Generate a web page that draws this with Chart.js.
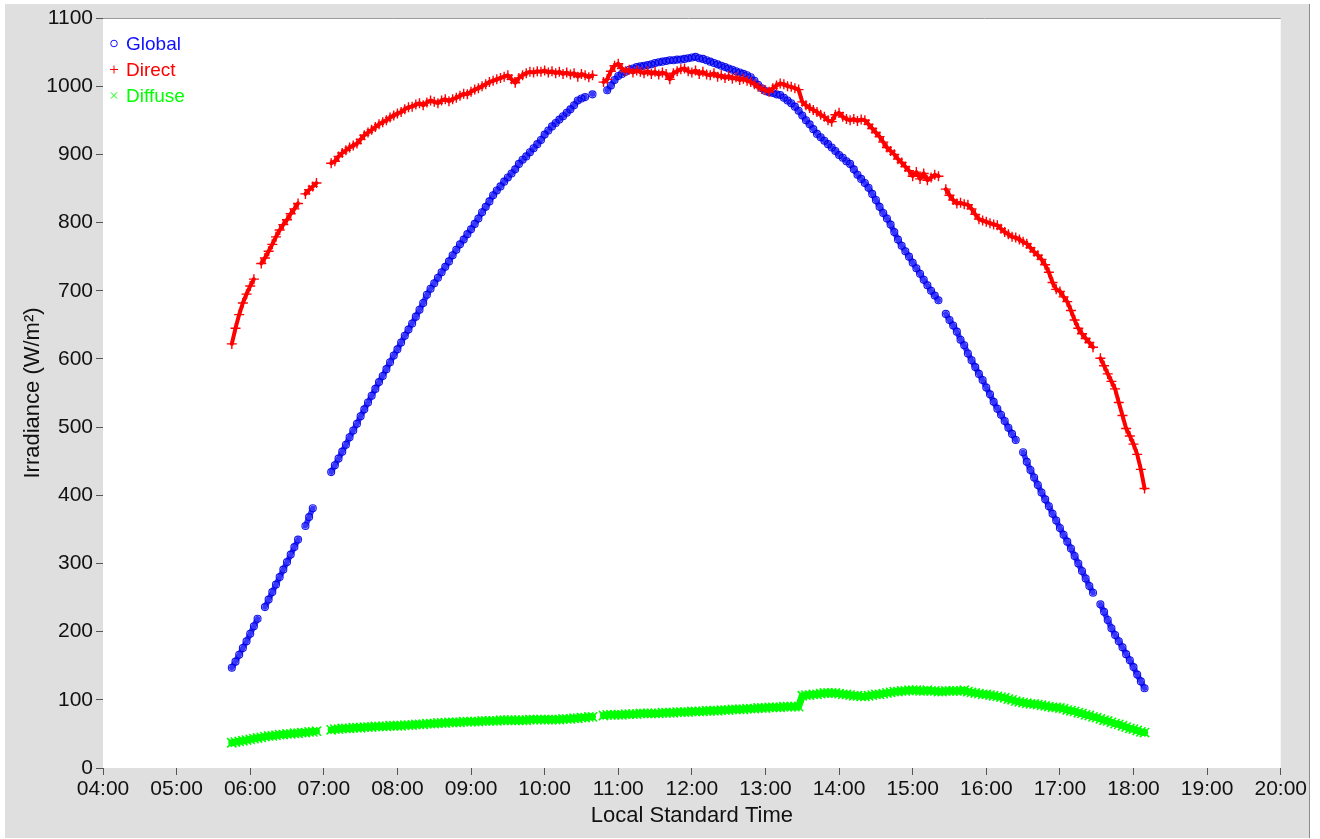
<!DOCTYPE html>
<html>
<head>
<meta charset="utf-8">
<title>Irradiance</title>
<script src="https://cdn.jsdelivr.net/npm/chart.js@4.4.0/dist/chart.umd.min.js"></script>
<style>
  body { margin: 0; background: #fff; }
  #wrap { position: absolute; left: 5px; top: 4px; width: 1304px; height: 834px; background: #dfdfdf; border-right: 1px solid #8c8c8c; }
</style>
</head>
<body>
<div id="wrap"><canvas id="irradianceChart" width="1304" height="834"></canvas></div>
<script>
// logger grid: one reading every 3 minutes, first one at 05:45 (minutes after midnight)
var firstSample = 345;
var sampleStep = 3;

var xTickLabels = ['04:00', '05:00', '06:00', '07:00', '08:00', '09:00', '10:00', '11:00', '12:00',
    '13:00', '14:00', '15:00', '16:00', '17:00', '18:00', '19:00', '20:00'];
var yTickLabels = ['0', '100', '200', '300', '400', '500', '600', '700', '800', '900', '1000', '1100'];

// W/m2, rows = one hour (first row 05:45-05:57, last row 18:00-18:09), null = no reading
var globalVals = [
    147, 156, 166, 176, 186,
    197, 208, 219, null, 236, 247, 258, 269, 280, 291, 302, 313, 324, 335, null, 355, 368, 381, null, null,
    null, null, 434, 444, 454, 464, 474, 485, 495, 505, 516, 526, 536, 546, 556, 566, 575, 585, 595, 605,
    614, 624, 634, 643, 652, 662, 672, 682, 694, 703, 711, 719, 727, 735, 743, 752, 760, 768, 775, 783,
    790, 798, 806, 815, 823, 831, 840, 847, 853, 860, 866, 872, 878, 886, 892, 897, 903, 909, 915, 921,
    929, 935, 941, 946, 951, 956, 961, 966, 972, 979, 982, 984, null, 988, null, null, null, 994, 1001, 1009,
    1015, 1018, 1021, 1024, 1026, 1028, 1029, 1030, 1031, 1032, 1034, 1035, 1036, 1037, 1038, 1038, 1039, 1039, 1040, 1041,
    1042, 1043, 1041, 1040, 1038, 1036, 1034, 1032, 1030, 1028, 1026, 1024, 1022, 1020, 1018, 1016, 1013, 1008, 1002, 997,
    993, 991, 990, 988, 987, 983, 979, 975, 970, 964, 957, 950, 944, 937, 930, 925, 920, 915, 910, 905,
    899, 895, 890, 886, 878, 870, 864, 858, 851, 842, 833, 823, 814, 806, 797, 786, 775, 766, 758, 750,
    741, 733, 725, 716, 708, 700, 693, 686, null, 666, 657, 649, 640, 628, 620, 608, 598, 588, 578, 569,
    558, 548, 537, 527, 518, 509, 499, 490, 481, null, 463, 449, 437, 426, 415, 404, 394, 384, 373, 363,
    352, 342, 332, 322, 311, 300, 289, 278, 267, 257, null, 240, 229, 217, 205, 195, 186, 177, 167, 158,
    148, 137, 127, 117
];

var directVals = [
    622, 645, 665, 682, 695,
    707, 717, null, 740, 748, 758, 768, 779, 789, 797, 804, 813, 820, 828, null, 842, 848, 853, 858, null,
    null, null, 887, 890, 897, 902, 906, 910, 913, 916, 922, 928, 932, 936, 940, 944, 947, 950, 954, 957,
    960, 962, 966, 969, 970, 973, 975, 972, 976, 979, 977, 975, 979, 981, 978, 981, 983, 986, 989, 988,
    992, 995, 997, 1000, 1003, 1006, 1008, 1010, 1012, 1014, 1016, 1010, 1005, 1012, 1016, 1019, 1021, 1020, 1022, 1021,
    1023, 1020, 1022, 1019, 1021, 1018, 1020, 1017, 1019, 1014, 1018, 1016, 1013, 1016, null, null, 1006, 1010, 1022, 1030,
    1033, 1026, 1022, 1024, 1020, 1023, 1021, 1019, 1022, 1018, 1021, 1017, 1020, 1018, 1010, 1019, 1022, 1025, 1026, 1022,
    1020, 1023, 1018, 1021, 1017, 1016, 1019, 1014, 1016, 1012, 1015, 1011, 1013, 1009, 1011, 1008, 1006, 1003, 999, 996,
    994, 992, 997, 1001, 1004, 1003, 1000, 999, 997, 995, 977, 972, 968, 965, 962, 958, 955, 950, 948, 958,
    961, 955, 952, 950, 952, 949, 951, 950, 944, 938, 932, 926, 918, 910, 905, 900, 893, 888, 882, 876,
    868, 874, 864, 872, 862, 866, 870, 868, null, 849, 840, 833, 828, 829, 827, 826, 820, 812, 805, 803,
    801, 799, 797, 796, 791, 786, 783, 779, 778, 775, 772, 769, 763, 757, 752, 746, 738, 727, 712, 702,
    699, 691, 684, 671, 657, 645, 637, 630, 624, 617, null, 601, 590, 578, 567, 556, 536, 517, 498, 487,
    475, 460, 438, 410
];

var diffuseVals = [
    37, 38, 39, 40, 41,
    42, 43, 44, 45, 46, 47, 47, 48, 49, 49, 50, 50, 51, 51, 52, 52, 53, 53, 54, null,
    null, null, 56, 57, 57, 58, 58, 58, 59, 59, 59, 60, 60, 60, 61, 61, 61, 61, 62, 62,
    62, 62, 63, 63, 63, 64, 64, 64, 65, 65, 65, 66, 66, 66, 67, 67, 67, 67, 68, 68,
    68, 68, 68, 69, 69, 69, 69, 69, 70, 70, 70, 70, 70, 70, 70, 70, 71, 71, 71, 71,
    71, 71, 71, 71, 71, 72, 72, 72, 73, 73, 74, 74, 75, 75, null, null, 77, 78, 78, 78,
    78, 78, 79, 79, 79, 79, 80, 80, 80, 80, 80, 80, 81, 81, 81, 81, 82, 82, 82, 82,
    83, 83, 83, 83, 84, 84, 84, 84, 85, 85, 85, 86, 86, 86, 86, 87, 87, 87, 88, 88,
    88, 89, 89, 89, 89, 90, 90, 90, 90, 90, 106, 107, 107, 108, 108, 109, 110, 110, 110, 110,
    109, 108, 108, 107, 106, 106, 105, 105, 106, 107, 108, 108, 109, 110, 111, 112, 112, 113, 113, 114,
    114, 114, 113, 113, 114, 113, 113, 112, 112, 113, 113, 113, 113, 113, 114, 112, 111, 110, 109, 108,
    108, 107, 106, 105, 104, 103, 101, 100, 98, 97, 96, 95, 94, 94, 93, 92, 91, 90, 89, 89,
    88, 87, 85, 84, 83, 81, 80, 78, 77, 75, 74, 72, 70, 69, 67, 65, 64, 62, 60, 58,
    57, 55, 53, 52
];

// keep the nulls so the trace breaks where the logger had no reading
function toPoints(vals) {
    var pts = [];
    for (var i = 0; i < vals.length; i++) {
        pts.push({ x: firstSample + i * sampleStep, y: vals[i] });
    }
    return pts;
}

Chart.defaults.font.family = '"Liberation Sans", Arial, sans-serif';
Chart.defaults.color = '#111';

// white plot area + grey top edge
var plotBg = {
    id: 'plotBg',
    beforeDraw: function(chart) {
        var a = chart.chartArea, ctx = chart.ctx;
        ctx.save();
        ctx.fillStyle = '#fff';
        ctx.fillRect(a.left, a.top, a.right - a.left, a.bottom - a.top);
        ctx.strokeStyle = '#9a9a9a';
        ctx.lineWidth = 1;
        ctx.beginPath();
        ctx.moveTo(a.left - 7, a.top + 0.5);
        ctx.lineTo(a.right, a.top + 0.5);
        ctx.stroke();
        ctx.restore();
    }
};

// legend drawn inside the top left corner of the plot
var insideLegend = {
    id: 'insideLegend',
    afterDraw: function(chart) {
        var a = chart.chartArea, ctx = chart.ctx;
        ctx.save();
        ctx.font = '19px "Liberation Sans", Arial, sans-serif';
        ctx.textBaseline = 'middle';
        chart.data.datasets.forEach(function(ds, i) {
            var y = a.top + 25.5 + i * 26;
            ctx.strokeStyle = ds.legendColor;
            ctx.fillStyle = 'rgba(0,0,0,0)';
            ctx.lineWidth = 1;
            Chart.helpers.drawPoint(ctx, { pointStyle: ds.pointStyle, radius: ds.legendRadius, borderWidth: 1, rotation: 0 }, a.left + 11, y);
            ctx.fillStyle = ds.legendColor;
            ctx.fillText(ds.label, a.left + 23, y + 1);
        });
        ctx.restore();
    }
};

var ctx = document.getElementById('irradianceChart').getContext('2d');
var irradianceChart = new Chart(ctx, {
    type: 'scatter',
    data: {
        datasets: [
            {
                label: 'Global',
                data: toPoints(globalVals),
                showLine: true,
                spanGaps: false,
                borderWidth: 5.5,
                borderColor: 'rgba(20,20,255,0.85)',
                pointStyle: 'circle',
                pointRadius: 3.5,
                pointBorderWidth: 1.1,
                pointBorderColor: 'rgba(0,0,230,0.9)',
                pointBackgroundColor: 'rgba(0,0,0,0)',
                legendColor: '#1010ff',
                legendRadius: 3.3,
                order: 2
            },
            {
                label: 'Direct',
                data: toPoints(directVals),
                showLine: true,
                spanGaps: false,
                borderWidth: 4,
                borderColor: '#ff0000',
                pointStyle: 'cross',
                pointRadius: 5,
                pointBorderWidth: 1.4,
                pointBorderColor: '#ff0000',
                pointBackgroundColor: 'rgba(0,0,0,0)',
                legendColor: '#ff0000',
                legendRadius: 4,
                order: 1
            },
            {
                label: 'Diffuse',
                data: toPoints(diffuseVals),
                showLine: true,
                spanGaps: false,
                borderWidth: 7,
                borderColor: '#00ff00',
                pointStyle: 'crossRot',
                pointRadius: 6.5,
                pointBorderWidth: 1.6,
                pointBorderColor: '#00ff00',
                pointBackgroundColor: 'rgba(0,0,0,0)',
                legendColor: '#00ff00',
                legendRadius: 4.5,
                order: 0
            }
        ]
    },
    options: {
        responsive: false,
        animation: false,
        elements: { line: { tension: 0, borderJoinStyle: 'round', borderCapStyle: 'round' } },
        layout: { padding: { top: 14, right: 28, left: 0, bottom: 0 } },
        plugins: {
            legend: { display: false },
            tooltip: { enabled: false }
        },
        scales: {
            x: {
                type: 'linear',
                min: 240,
                max: 1200,
                afterFit: function(scale) { scale.height = 70; },
                ticks: {
                    stepSize: 60,
                    autoSkip: false,
                    maxRotation: 0,
                    padding: 2,
                    font: { size: 21 },
                    callback: function(v) { return xTickLabels[Math.round((v - 240) / 60)]; }
                },
                grid: { drawOnChartArea: false, tickLength: 7, color: '#555' },
                border: { display: false },
                title: {
                    display: true,
                    text: 'Local Standard Time',
                    font: { size: 22 },
                    padding: { top: 0, bottom: 9 }
                }
            },
            y: {
                min: 0,
                max: 1100,
                afterFit: function(scale) { scale.width = 98; },
                ticks: {
                    stepSize: 100,
                    padding: 3,
                    font: { size: 21, lineHeight: 1 },
                    callback: function(v) { return yTickLabels[Math.round(v / 100)]; }
                },
                grid: { drawOnChartArea: false, tickLength: 7, color: '#555' },
                border: { display: false },
                title: {
                    display: true,
                    text: 'Irradiance (W/m²)',
                    font: { size: 22 },
                    padding: { top: 15, bottom: 0 }
                }
            }
        }
    },
    plugins: [plotBg, insideLegend]
});
</script>
</body>
</html>
